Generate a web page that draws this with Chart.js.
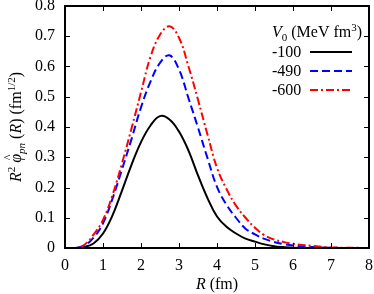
<!DOCTYPE html>
<html>
<head>
<meta charset="utf-8">
<script src="https://cdn.jsdelivr.net/npm/chart.js@4/dist/chart.umd.min.js"></script>
<style>
  html, body { margin: 0; padding: 0; background: #fff; }
  #wrap { width: 374px; height: 294px; }
  .probe { position: absolute; left: -999px; font-family: "Liberation Serif"; }
</style>
</head>
<body>
<span class="probe">0.8 <i>R</i></span>
<div id="wrap"><canvas id="c" width="374" height="294"></canvas></div>
<script>
// ====== DATA ======
const R_FM = [0, 0.25, 0.5, 0.75, 1, 1.25, 1.5, 1.75, 2, 2.25, 2.5, 2.75, 3, 3.25, 3.5, 3.75,
  4, 4.25, 4.5, 4.75, 5, 5.25, 5.5, 5.75, 6, 6.5, 7, 7.5, 8];

const V_100 = [0, 0, 0.003, 0.015, 0.048, 0.108, 0.19, 0.275, 0.35, 0.405, 0.436, 0.425, 0.385, 0.322, 0.24, 0.165,
  0.104, 0.07, 0.048, 0.031, 0.021, 0.012, 0.006, 0.003, 0.001, 0, 0, 0, 0];

const V_490 = [0, 0, 0.007, 0.034, 0.082, 0.163, 0.26, 0.36, 0.465, 0.55, 0.612, 0.637, 0.59, 0.495, 0.398, 0.297,
  0.202, 0.143, 0.1, 0.064, 0.045, 0.03, 0.02, 0.013, 0.008, 0.003, 0.001, 0, 0];

const V_600 = [0, 0, 0.01, 0.044, 0.093, 0.175, 0.28, 0.395, 0.515, 0.632, 0.705, 0.733, 0.695, 0.6, 0.49, 0.375,
  0.265, 0.195, 0.14, 0.1, 0.067, 0.042, 0.028, 0.02, 0.014, 0.007, 0.002, 0.001, 0];

const SERIES_LABELS = ["-100", "-490", "-600"];
const X_MIN = 0, X_MAX = 8, X_STEP = 1;
const Y_MIN = 0, Y_MAX = 0.8, Y_STEP = 0.1;

const SERIF = "\"Liberation Serif\", \"Times New Roman\", \"DejaVu Serif\", serif";

const pts = (ys) => R_FM.map((x, i) => ({ x, y: ys[i] }));

// draw a run of text pieces: [text, size, italic, dy, hat]
function drawPieces(ctx, pieces, x, y) {
  let cx = x;
  pieces.forEach(([t, size, italic, dy, hat]) => {
    ctx.font = `${italic ? "italic " : ""}${size}px ${SERIF}`;
    ctx.fillText(t, cx, y + (dy || 0));
    const w = ctx.measureText(t).width;
    if (hat) {
      ctx.font = `${Math.round(size * 0.75)}px ${SERIF}`;
      ctx.textAlign = "center";
      ctx.fillText("^", cx + w / 2 + 1, y - size * 0.55);
      ctx.textAlign = "left";
    }
    cx += w;
  });
  return cx - x;
}

function piecesWidth(ctx, pieces) {
  let w = 0;
  pieces.forEach(([t, size, italic]) => {
    ctx.font = `${italic ? "italic " : ""}${size}px ${SERIF}`;
    w += ctx.measureText(t).width;
  });
  return w;
}

const framePlugin = {
  id: "frame",
  afterDraw(chart) {
    const { ctx, chartArea: a, scales } = chart;
    const xs = scales.x, ys = scales.y;
    ctx.save();
    // inward ticks on all four sides
    ctx.strokeStyle = "#000";
    ctx.lineWidth = 1;
    const tl = 5;
    ctx.beginPath();
    for (let v = X_MIN + X_STEP; v < X_MAX; v += X_STEP) {
      const px = Math.round(xs.getPixelForValue(v)) + 0.5;
      ctx.moveTo(px, a.bottom); ctx.lineTo(px, a.bottom - tl);
      ctx.moveTo(px, a.top); ctx.lineTo(px, a.top + tl);
    }
    for (let k = 1; k < Math.round((Y_MAX - Y_MIN) / Y_STEP); k++) {
      const py = Math.round(ys.getPixelForValue(Y_MIN + k * Y_STEP)) + 0.5;
      ctx.moveTo(a.left, py); ctx.lineTo(a.left + tl, py);
      ctx.moveTo(a.right, py); ctx.lineTo(a.right - tl, py);
    }
    ctx.stroke();
    // frame
    ctx.lineWidth = 2;
    ctx.strokeRect(a.left, a.top, a.right - a.left, a.bottom - a.top);

    // x title
    ctx.fillStyle = "#000";
    ctx.textBaseline = "alphabetic";
    ctx.textAlign = "left";
    const xt = [["R", 16, true], [" (fm)", 16, false]];
    const xw = piecesWidth(ctx, xt);
    drawPieces(ctx, xt, (a.left + a.right) / 2 - xw / 2, 289);

    // y title, rotated
    const yt = [["R", 16, true], ["2", 11, false, -6], [" ", 16, false],
      ["φ", 16, true, 0, true], ["pn", 11, true, 4], [" (", 16, false], ["R", 16, true], [")", 16, false],
      [" (fm", 16, false], ["1/2", 11, false, -6], [")", 16, false]];
    const yw = piecesWidth(ctx, yt);
    ctx.save();
    ctx.translate(21, (a.top + a.bottom) / 2);
    ctx.rotate(-Math.PI / 2);
    drawPieces(ctx, yt, -yw / 2, 0);
    ctx.restore();

    // legend
    const lt = [["V", 16, true], ["0", 11, false, 4], [" (MeV fm", 16, false], ["3", 11, false, -6], [")", 16, false]];
    drawPieces(ctx, lt, 272, 37);
    chart.data.datasets.forEach((ds, i) => {
      const yy = 52 + i * 19;
      ctx.font = `16px ${SERIF}`;
      ctx.textBaseline = "middle";
      ctx.fillText(SERIES_LABELS[i], 272, yy + 1);
      ctx.textBaseline = "alphabetic";
      ctx.strokeStyle = ds.borderColor;
      ctx.lineWidth = ds.borderWidth;
      ctx.setLineDash(ds.borderDash || []);
      ctx.beginPath();
      ctx.moveTo(310, yy); ctx.lineTo(352, yy);
      ctx.stroke();
      ctx.setLineDash([]);
    });
    ctx.restore();
  }
};

function build() {
  new Chart(document.getElementById("c"), {
    type: "line",
    data: {
      datasets: [
        { label: SERIES_LABELS[0], data: pts(V_100), borderColor: "#000000", borderWidth: 2, order: 3 },
        { label: SERIES_LABELS[1], data: pts(V_490), borderColor: "#0000ff", borderWidth: 2, borderDash: [8, 4], order: 2 },
        { label: SERIES_LABELS[2], data: pts(V_600), borderColor: "#ff0000", borderWidth: 2, borderDash: [8, 3, 2, 3], order: 1 }
      ].map(d => Object.assign(d, { pointRadius: 0, fill: false, tension: 0.4 }))
    },
    options: {
      responsive: false,
      animation: false,
      devicePixelRatio: 1,
      layout: { padding: { top: 6, right: 5, left: 0, bottom: 0 } },
      plugins: { legend: { display: false }, tooltip: { enabled: false } },
      scales: {
        x: {
          type: "linear", min: X_MIN, max: X_MAX,
          grid: { display: false, drawTicks: false },
          border: { display: false },
          ticks: { stepSize: X_STEP, color: "#000", padding: 10, font: { family: SERIF, size: 16, lineHeight: 1 } },
          afterFit: (s) => { s.height = 46; s.paddingLeft = 0; s.paddingRight = 0; }
        },
        y: {
          min: Y_MIN, max: Y_MAX,
          grid: { display: false, drawTicks: false },
          border: { display: false },
          ticks: {
            stepSize: Y_STEP, color: "#000", padding: 10,
            font: { family: SERIF, size: 16, lineHeight: 1 },
            callback: (v) => (Math.abs(v) < 1e-9 ? "0" : Number(v).toFixed(1))
          },
          afterFit: (s) => { s.width = 65; s.paddingTop = 0; s.paddingBottom = 0; }
        }
      }
    },
    plugins: [framePlugin]
  });
}

if (document.fonts && document.fonts.load) {
  Promise.all([
    document.fonts.load(`16px ${SERIF}`),
    document.fonts.load(`italic 16px ${SERIF}`)
  ]).then(build, build);
} else {
  build();
}
</script>
</body>
</html>
